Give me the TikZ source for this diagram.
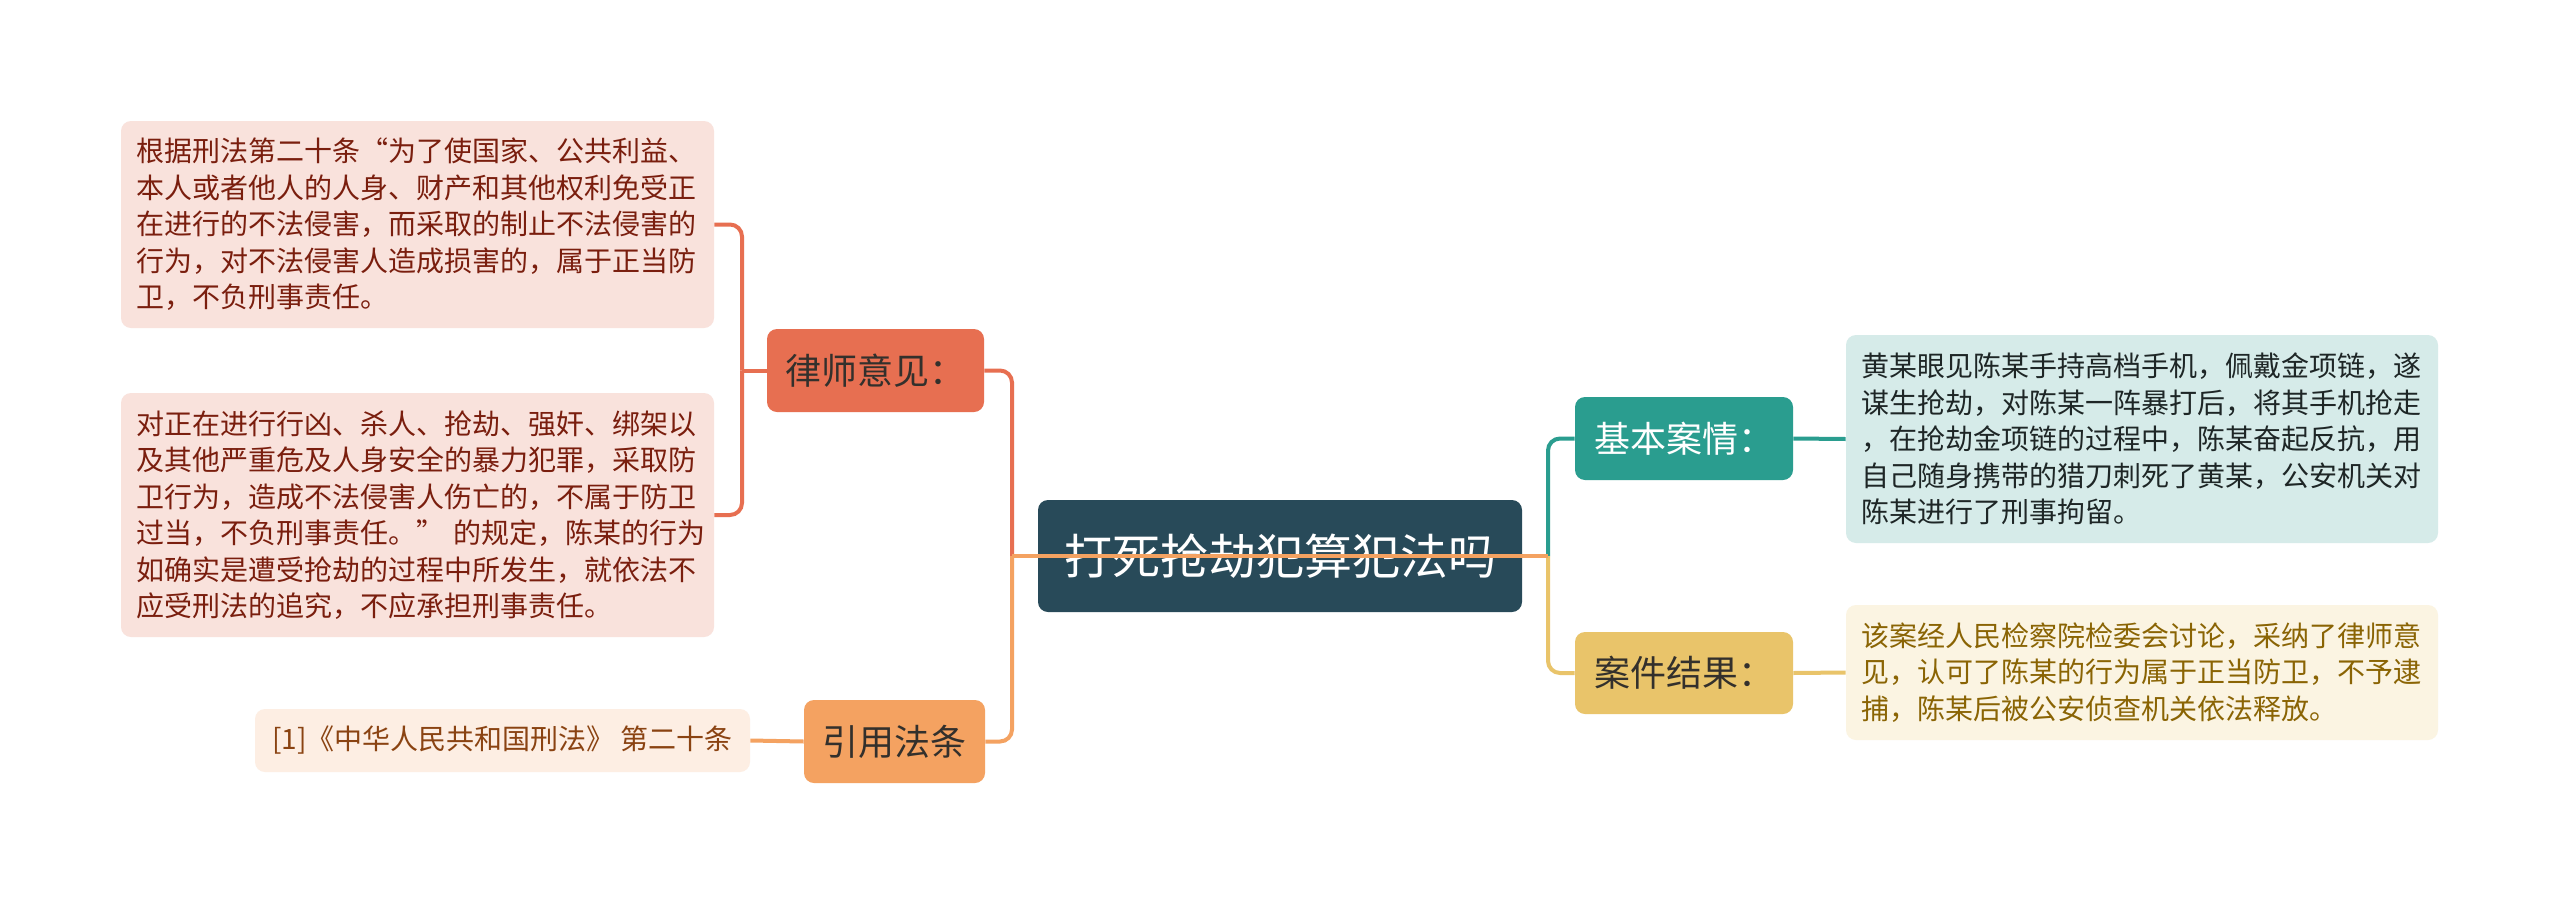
\documentclass[tikz,border=0pt]{standalone}
\usepackage{fontspec}
\setmainfont{Noto Sans CJK SC}
\definecolor{cCenter}{HTML}{284A59}
\definecolor{cRed}{HTML}{E76F51}
\definecolor{cOrange}{HTML}{F4A261}
\definecolor{cTeal}{HTML}{2A9D8F}
\definecolor{cYellow}{HTML}{E9C46A}
\definecolor{lRed}{HTML}{F9E2DC}
\definecolor{lOrange}{HTML}{FDEEE3}
\definecolor{lTeal}{HTML}{D6EBE9}
\definecolor{lYellow}{HTML}{FBF4E2}
\definecolor{tRed}{HTML}{7A1E0E}
\definecolor{tOrange}{HTML}{8A4312}
\definecolor{tTeal}{HTML}{1E2626}
\definecolor{tYellow}{HTML}{8A6404}
\definecolor{tDark}{HTML}{33302C}
\begin{document}
\begin{tikzpicture}[x=0.5pt,y=-0.5pt,
  box/.style={rectangle, rounded corners=5pt, inner sep=0pt, anchor=center},
  mainbox/.style={box, font=\fontsize{18}{22}\selectfont},
  leafbox/.style={box, font=\fontsize{14}{18.25}\selectfont, align=left, text width=281pt, minimum width=296.5pt},
  conn/.style={line width=2pt, rounded corners=6pt}]
\useasboundingbox (0,0) rectangle (2560,905);
\fill[white] (0,0) rectangle (2560,905);

% root
\node[box, fill=cCenter, text=white, minimum width=242pt, minimum height=56pt,
  font=\fontsize{24}{28}\selectfont] (root) at (1280,556) {打死抢劫犯算犯法吗};

% main topics
\node[mainbox, fill=cRed, text=tDark, minimum width=108.5pt, minimum height=41.5pt] (lvshi) at (875.5,370.5) {律师意见：};
\node[mainbox, fill=cOrange, text=tDark, minimum width=90.5pt, minimum height=41.5pt] (yinyong) at (894.5,741.5) {引用法条};
\node[mainbox, fill=cTeal, text=white, minimum width=109pt, minimum height=41.5pt] (jiben) at (1684,438.5) {基本案情：};
\node[mainbox, fill=cYellow, text=tDark, minimum width=109pt, minimum height=41pt] (anjian) at (1684,673) {案件结果：};

% leaves
\node[leafbox, fill=lRed, text=tRed, minimum height=103.5pt] (leafA) at (417.5,224.5) {根据刑法第二十条“为了使国家、公共利益、\\本人或者他人的人身、财产和其他权利免受正\\在进行的不法侵害，而采取的制止不法侵害的\\行为，对不法侵害人造成损害的，属于正当防\\卫，不负刑事责任。};
\node[leafbox, fill=lRed, text=tRed, minimum height=122pt] (leafB) at (417.5,515) {对正在进行行凶、杀人、抢劫、强奸、绑架以\\及其他严重危及人身安全的暴力犯罪，采取防\\卫行为，造成不法侵害人伤亡的，不属于防卫\\过当，不负刑事责任。”~的规定，陈某的行为\\如确实是遭受抢劫的过程中所发生，就依法不\\应受刑法的追究，不应承担刑事责任。};
\node[box, fill=lOrange, text=tOrange, font=\fontsize{14}{18}\selectfont, minimum width=247.5pt, minimum height=31.5pt] (ref) at (502.5,740.5) {[1]《中华人民共和国刑法》 第二十条};
\node[leafbox, fill=lTeal, text=tTeal, minimum width=296pt, minimum height=104pt] (leafC) at (2142,439) {黄某眼见陈某手持高档手机，佩戴金项链，遂\\谋生抢劫，对陈某一阵暴打后，将其手机抢走\\，在抢劫金项链的过程中，陈某奋起反抗，用\\自己随身携带的猎刀刺死了黄某，公安机关对\\陈某进行了刑事拘留。};
\node[leafbox, fill=lYellow, text=tYellow, minimum width=296pt, minimum height=67.5pt] (leafD) at (2142,672.5) {该案经人民检察院检委会讨论，采纳了律师意\\见，认可了陈某的行为属于正当防卫，不予逮\\捕，陈某后被公安侦查机关依法释放。};

% junctions
\coordinate (jl) at (1012,556);
\coordinate (jr) at (1548,556);
\coordinate (jlv) at (742,370.5);

% connectors
\draw[conn, cRed] (lvshi.east) -| (jl);
\draw[conn, cOrange] (yinyong.east) -| (jl);
\draw[conn, cTeal] (jr) |- (jiben.west);
\draw[conn, cYellow] (jr) |- (anjian.west);
\draw[line width=2pt, cOrange] (jl) -- (jr);
\draw[conn, cRed] (lvshi.west) -- (jlv);
\draw[conn, cRed] (jlv) |- (leafA.east);
\draw[conn, cRed] (jlv) |- (leafB.east);
\draw[conn, cOrange] (yinyong.west) -- (ref.east);
\draw[conn, cTeal] (jiben.east) -- (leafC.west);
\draw[conn, cYellow] (anjian.east) -- (leafD.west);
\end{tikzpicture}
\end{document}
